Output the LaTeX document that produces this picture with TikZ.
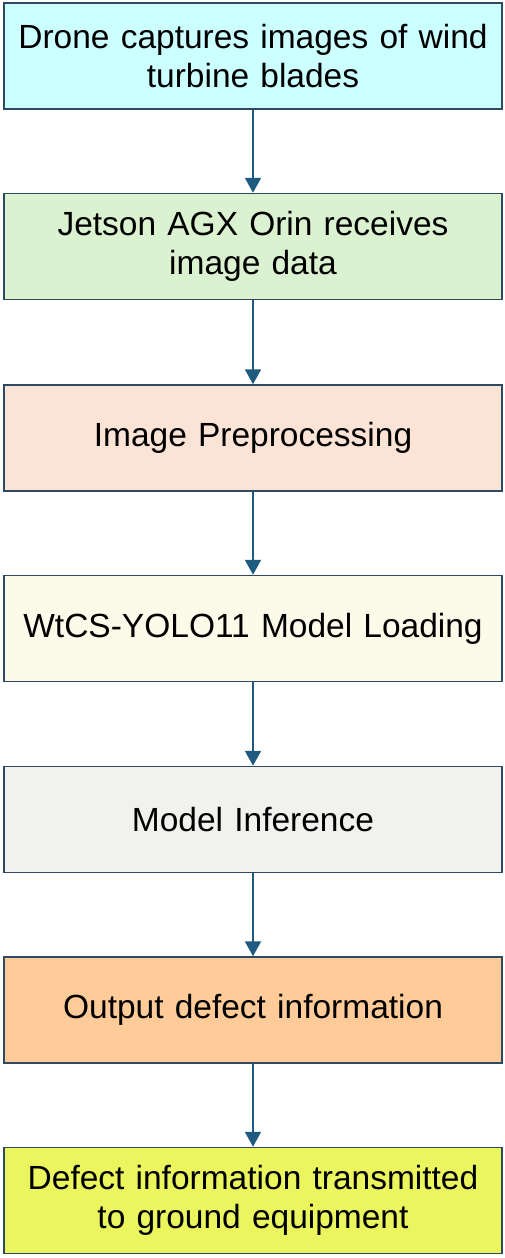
\documentclass[tikz,border=0pt]{standalone}
\usepackage{fontspec}
\setmainfont{Liberation Sans}
\usetikzlibrary{arrows.meta}
\definecolor{c1}{HTML}{CCFFFF}
\definecolor{c2}{HTML}{DAF2D0}
\definecolor{c3}{HTML}{FBE3D6}
\definecolor{c4}{HTML}{FCFAE8}
\definecolor{c5}{HTML}{F1F2EE}
\definecolor{c6}{HTML}{FFCC99}
\definecolor{c7}{HTML}{EBF55D}
\definecolor{bordc}{HTML}{2E4A63}
\definecolor{arrc}{HTML}{1F5A80}
\tikzset{
  box/.style={draw=bordc, line width=1.5pt, minimum width=498pt, minimum height=106pt,
    inner sep=0pt, align=center, font=\fontsize{33.5}{39}\selectfont, text width=490pt},
  conn/.style={draw=arrc, line width=2pt, -{Triangle[length=15pt,width=16pt]}}
}
\begin{document}
\begin{tikzpicture}[x=1pt,y=-1pt]
\useasboundingbox (0,0) rectangle (505,1258);
\node[box, fill=c1] (b1) at (253,56) {Drone captures images of wind\\turbine blades};
\node[box, fill=c2] (b2) at (253,246.5) {Jetson AGX Orin receives\\image data};
\node[box, fill=c3] (b3) at (253,438) {Image Preprocessing};
\node[box, fill=c4] (b4) at (253,628.5) {WtCS-YOLO11 Model Loading};
\node[box, fill=c5] (b5) at (253,819.5) {Model Inference};
\node[box, fill=c6] (b6) at (253,1010) {Output defect information};
\node[box, fill=c7] (b7) at (253,1200.5) {Defect information transmitted\\to ground equipment};
\draw[conn] (b1) -- (b2);
\draw[conn] (b2) -- (b3);
\draw[conn] (b3) -- (b4);
\draw[conn] (b4) -- (b5);
\draw[conn] (b5) -- (b6);
\draw[conn] (b6) -- (b7);
\end{tikzpicture}
\end{document}
